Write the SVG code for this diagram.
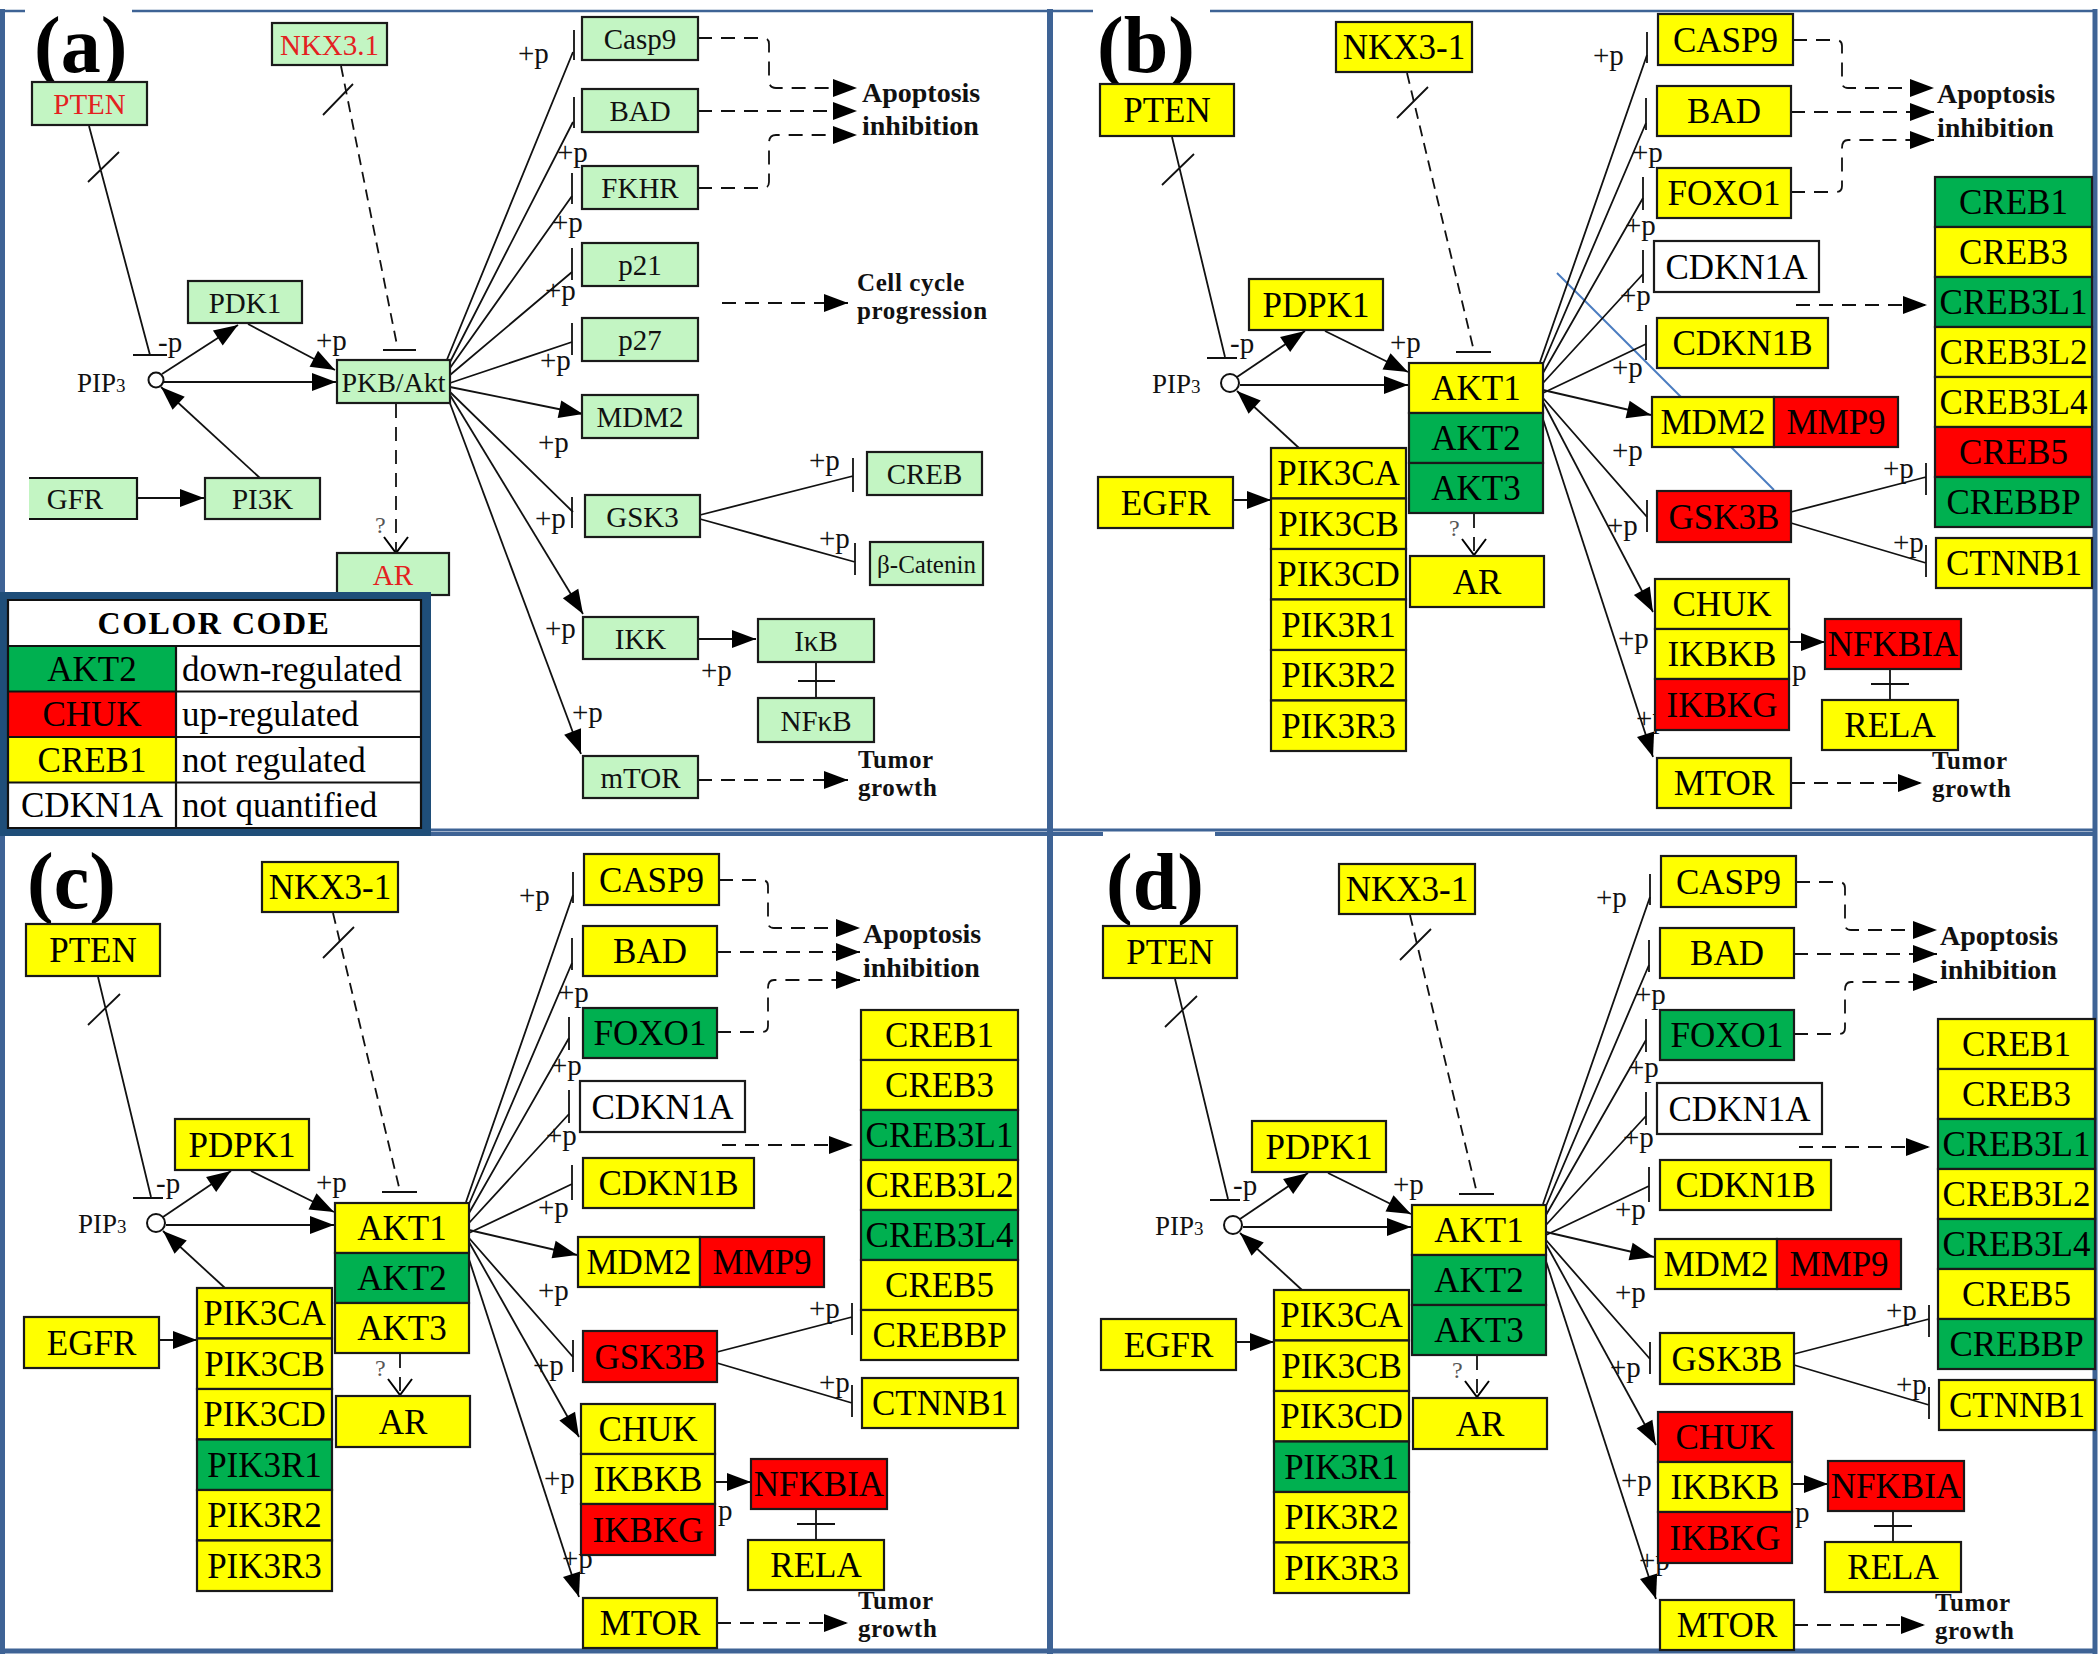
<svg xmlns="http://www.w3.org/2000/svg" width="2100" height="1654" viewBox="0 0 2100 1654">
<defs>
<style>
.fr{fill:none;stroke:#3e6395}
.bx{stroke:#1a1a1a;stroke-width:2.2}
.ga{fill:#c3f5c3}
.Y{fill:#ffff00}.G{fill:#00b050}.R{fill:#ff0000}.W{fill:#ffffff}
.ta{font-family:"Liberation Serif",serif;font-size:29px;text-anchor:middle;fill:#111}
.rd{fill:#e3211f}
.tn{font-family:"Liberation Serif",serif;font-size:35px;text-anchor:middle;fill:#000}
.pl{font-family:"Liberation Serif",serif;font-size:29px;fill:#111}
.ol{font-family:"Liberation Serif",serif;font-size:28px;font-weight:bold;fill:#111}
.o2{font-family:"Liberation Serif",serif;font-size:25px;font-weight:bold;letter-spacing:0.6px;fill:#111}
.ln{fill:none;stroke:#111;stroke-width:1.8}
.ds{stroke-dasharray:14 9}
.dn{stroke-dasharray:11 7}
.pn{font-family:"Liberation Serif",serif;font-size:80px;font-weight:bold;fill:#000}
.lg{font-family:"Liberation Serif",serif;font-size:35px;fill:#000}
.q{font-family:"Liberation Serif",serif;font-size:24px;fill:#555}
.pip{font-family:"Liberation Serif",serif;font-size:27px;fill:#111}
</style>
<marker id="ah" markerUnits="userSpaceOnUse" markerWidth="24" markerHeight="18" refX="24" refY="9" orient="auto" overflow="visible"><path d="M0,0 L24,9 L0,18 z" fill="#000"/></marker>
<marker id="oa" markerUnits="userSpaceOnUse" markerWidth="18" markerHeight="26" refX="16" refY="12" orient="auto" overflow="visible"><path d="M0,0 L16,12 L0,24" fill="none" stroke="#000" stroke-width="2"/></marker>
</defs>
<rect width="2100" height="1654" fill="#fff"/>

<!-- frames -->
<g id="frames">
<path class="fr" stroke-width="2.5" d="M0,11 H25 M132,11 H1047 M1053,11 H1093 M1210,11 H2097"/>
<path class="fr" stroke-width="5" d="M2.5,9 V1654 M2095,9 V1654 M0,1651 H2097"/>
<path class="fr" stroke-width="6" d="M1050,9 V1654"/>
<path class="fr" stroke-width="3" d="M0,830 H2097"/>
<path class="fr" stroke-width="4" d="M0,834 H22 M125,834 H1103 M1215,834 H2097"/>
</g>

<!-- panel labels -->
<text class="pn" x="34" y="72">(a)</text>
<text class="pn" x="1097" y="72">(b)</text>
<text class="pn" x="27" y="908">(c)</text>
<text class="pn" x="1106" y="909">(d)</text>

<!-- ================= PANEL A ================= -->
<g id="panel-a">
<g id="a-connectors">
<path class="ln" d="M89,126 L150,355 M133,355 H167 M88,182 L119,152"/>
<path class="ln dn" d="M341,66 L397,345"/>
<path class="ln" d="M383,350 H416 M323,115 L353,84"/>
<path class="ln" marker-end="url(#ah)" d="M162,374 L238,325"/>
<path class="ln" marker-end="url(#ah)" d="M248,324 L335,370"/>
<path class="ln" marker-end="url(#ah)" d="M164,382 L336,382"/>
<path class="ln" marker-end="url(#ah)" d="M261,479 L161,387"/>
<path class="ln" marker-end="url(#ah)" d="M137,498 L204,498"/>
<path class="ln ds" marker-end="url(#oa)" d="M396,404 V553"/>
<path class="ln" d="M446,362 L573,52 M449,364 L573,122 M450,368 L572,196 M450,375 L572,272 M450,383 L572,342 M450,392 L573,512"/>
<path class="ln" d="M574,30 V60 M574,97 V128 M572,173 V204 M572,248 V280 M572,323 V355 M572,497 V528"/>
<path class="ln" marker-end="url(#ah)" d="M450,387 L583,414"/>
<path class="ln" marker-end="url(#ah)" d="M450,395 L583,614"/>
<path class="ln" marker-end="url(#ah)" d="M448,398 L581,754"/>
<path class="ln ds" marker-end="url(#ah)" d="M698,38 H763 Q769,38 769,44 V80 Q769,88 776,88 H857"/>
<path class="ln ds" marker-end="url(#ah)" d="M698,111 H857"/>
<path class="ln ds" marker-end="url(#ah)" d="M698,188 H763 Q769,188 769,182 V143 Q769,135 776,135 H857"/>
<path class="ln ds" marker-end="url(#ah)" d="M722,303 H848"/>
<path class="ln ds" marker-end="url(#ah)" d="M698,780 H848"/>
<path class="ln" marker-end="url(#ah)" d="M698,639 H756"/>
<path class="ln" d="M816,662 V698 M798,681 H835"/>
<path class="ln" d="M700,515 L853,476 M853,458 V492 M700,519 L855,562 M855,543 V575"/>
</g>
<g id="a-labels">
<text class="pl" x="158" y="352">-p</text>
<text class="pl" x="316" y="350">+p</text>
<text class="q" x="375" y="533">?</text>
<text class="pl" x="518" y="63">+p</text>
<text class="pl" x="557" y="162">+p</text>
<text class="pl" x="552" y="232">+p</text>
<text class="pl" x="545" y="300">+p</text>
<text class="pl" x="540" y="370">+p</text>
<text class="pl" x="538" y="452">+p</text>
<text class="pl" x="535" y="528">+p</text>
<text class="pl" x="545" y="638">+p</text>
<text class="pl" x="572" y="722">+p</text>
<text class="pl" x="701" y="680">+p</text>
<text class="pl" x="809" y="470">+p</text>
<text class="pl" x="819" y="548">+p</text>
<text class="ol" x="862" y="102">Apoptosis<tspan x="862" dy="33">inhibition</tspan></text>
<text class="o2" x="857" y="291">Cell cycle<tspan x="857" dy="28">progression</tspan></text>
<text class="o2" x="858" y="768">Tumor<tspan x="858" dy="28">growth</tspan></text>
</g>
<g id="a-PIP3"><circle cx="156" cy="380" r="7.5" fill="#fff" stroke="#111" stroke-width="2"/><text class="pip" x="77" y="392">PIP<tspan font-size="19">3</tspan></text></g>
<g id="a-PTEN"><rect class="bx ga" x="32" y="82" width="115" height="43"/><text class="ta rd" x="89.5" y="114">PTEN</text></g>
<g id="a-NKX3.1"><rect class="bx ga" x="272" y="23" width="115" height="42"/><text class="ta rd" x="329.5" y="55">NKX3.1</text></g>
<g id="a-PDK1"><rect class="bx ga" x="188" y="281" width="114" height="42"/><text class="ta" x="245" y="313">PDK1</text></g>
<g id="a-PKBAkt"><rect class="bx ga" x="337" y="360" width="113" height="43"/><text class="ta" x="393.5" y="392" style="font-size:28px">PKB/Akt</text></g>
<g id="a-GFR"><rect class="ga" x="29" y="478" width="108" height="41"/><path class="ln" style="stroke-width:2.2" d="M29,478 H137 V519 H29"/><text class="ta" x="75" y="509">GFR</text></g>
<g id="a-PI3K"><rect class="bx ga" x="205" y="478" width="115" height="41"/><text class="ta" x="262.5" y="509">PI3K</text></g>
<g id="a-AR"><rect class="bx ga" x="337" y="553" width="112" height="42"/><text class="ta rd" x="393" y="585">AR</text></g>
<g id="a-Casp9"><rect class="bx ga" x="582" y="17" width="116" height="43"/><text class="ta" x="640" y="49">Casp9</text></g>
<g id="a-BAD"><rect class="bx ga" x="582" y="89" width="116" height="43"/><text class="ta" x="640" y="121">BAD</text></g>
<g id="a-FKHR"><rect class="bx ga" x="582" y="166" width="116" height="43"/><text class="ta" x="640" y="198">FKHR</text></g>
<g id="a-p21"><rect class="bx ga" x="582" y="243" width="116" height="43"/><text class="ta" x="640" y="275">p21</text></g>
<g id="a-p27"><rect class="bx ga" x="582" y="318" width="116" height="43"/><text class="ta" x="640" y="350">p27</text></g>
<g id="a-MDM2"><rect class="bx ga" x="582" y="395" width="116" height="43"/><text class="ta" x="640" y="427">MDM2</text></g>
<g id="a-GSK3"><rect class="bx ga" x="585" y="495" width="115" height="42"/><text class="ta" x="642.5" y="527">GSK3</text></g>
<g id="a-IKK"><rect class="bx ga" x="583" y="617" width="115" height="42"/><text class="ta" x="640.5" y="649">IKK</text></g>
<g id="a-mTOR"><rect class="bx ga" x="583" y="756" width="115" height="42"/><text class="ta" x="640.5" y="788">mTOR</text></g>
<g id="a-CREB"><rect class="bx ga" x="867" y="452" width="115" height="43"/><text class="ta" x="924.5" y="484">CREB</text></g>
<g id="a-bCatenin"><rect class="bx ga" x="870" y="542" width="113" height="43"/><text class="ta" x="926.5" y="573" style="font-size:25px">β-Catenin</text></g>
<g id="a-IkB"><rect class="bx ga" x="758" y="619" width="116" height="43"/><text class="ta" x="816" y="651">IκB</text></g>
<g id="a-NFkB"><rect class="bx ga" x="758" y="698" width="116" height="44"/><text class="ta" x="816" y="731">NFκB</text></g>

<g id="legend">
<rect x="0" y="592" width="431" height="244" fill="#1f4e79"/>
<rect x="8" y="600" width="413" height="228" fill="#fff"/>
<rect x="8" y="646" width="168" height="45.5" class="G"/>
<rect x="8" y="691.5" width="168" height="45.5" class="R"/>
<rect x="8" y="737" width="168" height="45.5" class="Y"/>
<path d="M8,600 H421 V828 H8 Z M8,646 H421 M8,691.5 H421 M8,737 H421 M8,782.5 H421 M176,646 V828" fill="none" stroke="#111" stroke-width="2.2"/>
<text x="214" y="634" text-anchor="middle" style="font-family:'Liberation Serif',serif;font-size:32px;font-weight:bold;letter-spacing:1.5px">COLOR CODE</text>
<text class="lg" x="92" y="681" text-anchor="middle">AKT2</text>
<text class="lg" x="92" y="726" text-anchor="middle">CHUK</text>
<text class="lg" x="92" y="772" text-anchor="middle">CREB1</text>
<text class="lg" x="92" y="817" text-anchor="middle">CDKN1A</text>
<text class="lg" x="182" y="681">down-regulated</text>
<text class="lg" x="182" y="726">up-regulated</text>
<text class="lg" x="182" y="772">not regulated</text>
<text class="lg" x="182" y="817">not quantified</text>
</g>
</g>

<!-- ================= PANEL B ================= -->
<g id="panel-b" transform="translate(1050,0)">
<g id="b-connectors">
<path class="ln" d="M507,273 L724,490" style="stroke:#4a7cc0;stroke-width:2"/>
<path class="ln" d="M122,137 L175,357 M157,358 H187 M112,185 L144,154"/>
<path class="ln dn" d="M357,73 L423,347"/>
<path class="ln" d="M406,352 H441 M347,118 L378,87"/>
<path class="ln" marker-end="url(#ah)" d="M187,377 L255,331"/>
<path class="ln" marker-end="url(#ah)" d="M275,331 L358,372"/>
<path class="ln" marker-end="url(#ah)" d="M190,385 L358,385"/>
<path class="ln" marker-end="url(#ah)" d="M249,448 L187,391"/>
<path class="ln" marker-end="url(#ah)" d="M183,500 L221,500"/>
<path class="ln ds" marker-end="url(#oa)" d="M424,514 V555"/>
<path class="ln" d="M490,362 L597,55 M493,364 L596,123 M493,373 L593,198 M493,383 L593,274 M493,393 L596,344 M493,398 L597,517"/>
<path class="ln" d="M597,32 V63 M596,98 V130 M593,177 V210 M593,250 V283 M596,325 V360 M597,500 V532"/>
<path class="ln" marker-end="url(#ah)" d="M493,390 L601,415"/>
<path class="ln" marker-end="url(#ah)" d="M493,402 L603,612"/>
<path class="ln" marker-end="url(#ah)" d="M490,410 L603,757"/>
<path class="ln ds" marker-end="url(#ah)" d="M743,40 H786 Q792,40 792,46 V82 Q792,88 798,88 H884"/>
<path class="ln ds" marker-end="url(#ah)" d="M741,112 H884"/>
<path class="ln ds" marker-end="url(#ah)" d="M741,192 H786 Q792,192 792,186 V148 Q792,140 798,140 H884"/>
<path class="ln ds" marker-end="url(#ah)" d="M746,305 H877"/>
<path class="ln" d="M741,512 L876,477 M876,463 V495 M741,523 L876,563 M876,545 V577"/>
<path class="ln" marker-end="url(#ah)" d="M739,642 H775"/>
<path class="ln" d="M840,669 V700 M821,684 H859"/>
<path class="ln ds" marker-end="url(#ah)" d="M741,783 H872"/>
</g>
<g id="b-labels">
<text class="pl" x="180" y="353">-p</text>
<text class="pl" x="340" y="352">+p</text>
<text class="q" x="399" y="536">?</text>
<text class="pl" x="543" y="65">+p</text>
<text class="pl" x="582" y="162">+p</text>
<text class="pl" x="575" y="235">+p</text>
<text class="pl" x="570" y="305">+p</text>
<text class="pl" x="562" y="377">+p</text>
<text class="pl" x="562" y="460">+p</text>
<text class="pl" x="557" y="535">+p</text>
<text class="pl" x="568" y="648">+p</text>
<text class="pl" x="586" y="728">+p</text>
<text class="pl" x="833" y="478">+p</text>
<text class="pl" x="843" y="552">+p</text>
<text class="pl" x="742" y="680">p</text>
<text class="ol" x="887" y="103">Apoptosis<tspan x="887" dy="34">inhibition</tspan></text>
<text class="o2" x="882" y="769">Tumor<tspan x="882" dy="28">growth</tspan></text>
</g>
<g id="b-PIP3"><circle cx="180" cy="383" r="9" fill="#fff" stroke="#111" stroke-width="2"/><text class="pip" x="102" y="393">PIP<tspan font-size="19">3</tspan></text></g>
<g id="b-PTEN"><rect class="bx Y" x="50" y="84" width="134" height="52"/><text class="tn" x="117" y="122">PTEN</text></g>
<g id="b-NKX3-1"><rect class="bx Y" x="286" y="22" width="136" height="50"/><text class="tn" x="354" y="59">NKX3-1</text></g>
<g id="b-PDPK1"><rect class="bx Y" x="199" y="279" width="134" height="51"/><text class="tn" x="266" y="317">PDPK1</text></g>
<g id="b-AKT1"><rect class="bx Y" x="359" y="363" width="134" height="50"/><text class="tn" x="426" y="400">AKT1</text></g>
<g id="b-AKT2"><rect class="bx G" x="359" y="413" width="134" height="50"/><text class="tn" x="426" y="450">AKT2</text></g>
<g id="b-AKT3"><rect class="bx G" x="359" y="463" width="134" height="50"/><text class="tn" x="426" y="500">AKT3</text></g>
<g id="b-AR"><rect class="bx Y" x="360" y="556" width="134" height="51"/><text class="tn" x="427" y="594">AR</text></g>
<g id="b-EGFR"><rect class="bx Y" x="48" y="477" width="135" height="51"/><text class="tn" x="115.5" y="515">EGFR</text></g>
<g id="b-PIK3CA"><rect class="bx Y" x="221" y="448" width="135" height="50.5"/><text class="tn" x="288.5" y="485">PIK3CA</text></g>
<g id="b-PIK3CB"><rect class="bx Y" x="221" y="498.5" width="135" height="50.5"/><text class="tn" x="288.5" y="535.5">PIK3CB</text></g>
<g id="b-PIK3CD"><rect class="bx Y" x="221" y="549" width="135" height="50.5"/><text class="tn" x="288.5" y="586">PIK3CD</text></g>
<g id="b-PIK3R1"><rect class="bx Y" x="221" y="599.5" width="135" height="50.5"/><text class="tn" x="288.5" y="636.5">PIK3R1</text></g>
<g id="b-PIK3R2"><rect class="bx Y" x="221" y="650" width="135" height="50.5"/><text class="tn" x="288.5" y="687">PIK3R2</text></g>
<g id="b-PIK3R3"><rect class="bx Y" x="221" y="700.5" width="135" height="50.5"/><text class="tn" x="288.5" y="737.5">PIK3R3</text></g>
<g id="b-CASP9"><rect class="bx Y" x="608" y="14" width="135" height="51"/><text class="tn" x="675.5" y="52">CASP9</text></g>
<g id="b-BAD"><rect class="bx Y" x="607" y="86" width="134" height="50"/><text class="tn" x="674" y="123">BAD</text></g>
<g id="b-FOXO1"><rect class="bx Y" x="607" y="168" width="134" height="50"/><text class="tn" x="674" y="205">FOXO1</text></g>
<g id="b-CDKN1A"><rect class="bx W" x="604" y="241" width="165" height="51"/><text class="tn" x="686.5" y="279">CDKN1A</text></g>
<g id="b-CDKN1B"><rect class="bx Y" x="607" y="318" width="171" height="50"/><text class="tn" x="692.5" y="355">CDKN1B</text></g>
<g id="b-MDM2"><rect class="bx Y" x="602" y="397" width="122" height="50"/><text class="tn" x="663" y="434">MDM2</text></g>
<g id="b-MMP9"><rect class="bx R" x="724" y="397" width="124" height="50"/><text class="tn" x="786" y="434">MMP9</text></g>
<g id="b-GSK3B"><rect class="bx R" x="607" y="491" width="134" height="51"/><text class="tn" x="674" y="529">GSK3B</text></g>
<g id="b-CHUK"><rect class="bx Y" x="605" y="579" width="134" height="50"/><text class="tn" x="672" y="616">CHUK</text></g>
<g id="b-IKBKB"><rect class="bx Y" x="605" y="629" width="134" height="50"/><text class="tn" x="672" y="666">IKBKB</text></g>
<g id="b-IKBKG"><rect class="bx R" x="605" y="679" width="134" height="51"/><text class="tn" x="672" y="717">IKBKG</text></g>
<g id="b-NFKBIA"><rect class="bx R" x="775" y="619" width="136" height="50"/><text class="tn" x="843" y="656">NFKBIA</text></g>
<g id="b-RELA"><rect class="bx Y" x="772" y="700" width="136" height="50"/><text class="tn" x="840" y="737">RELA</text></g>
<g id="b-MTOR"><rect class="bx Y" x="607" y="758" width="134" height="50"/><text class="tn" x="674" y="795">MTOR</text></g>
<g id="b-CREB1"><rect class="bx G" x="885" y="177" width="157" height="50"/><text class="tn" x="963.5" y="214">CREB1</text></g>
<g id="b-CREB3"><rect class="bx Y" x="885" y="227" width="157" height="50"/><text class="tn" x="963.5" y="264">CREB3</text></g>
<g id="b-CREB3L1"><rect class="bx G" x="885" y="277" width="157" height="50"/><text class="tn" x="963.5" y="314">CREB3L1</text></g>
<g id="b-CREB3L2"><rect class="bx Y" x="885" y="327" width="157" height="50"/><text class="tn" x="963.5" y="364">CREB3L2</text></g>
<g id="b-CREB3L4"><rect class="bx Y" x="885" y="377" width="157" height="50"/><text class="tn" x="963.5" y="414">CREB3L4</text></g>
<g id="b-CREB5"><rect class="bx R" x="885" y="427" width="157" height="50"/><text class="tn" x="963.5" y="464">CREB5</text></g>
<g id="b-CREBBP"><rect class="bx G" x="885" y="477" width="157" height="50"/><text class="tn" x="963.5" y="514">CREBBP</text></g>
<g id="b-CTNNB1"><rect class="bx Y" x="886" y="538" width="156" height="50"/><text class="tn" x="964" y="575">CTNNB1</text></g>
</g>

<!-- ================= PANEL C ================= -->
<g id="panel-c" transform="translate(-24,840)">
<g id="c-connectors">
<path class="ln" d="M122,137 L175,357 M157,358 H187 M112,185 L144,154"/>
<path class="ln dn" d="M357,73 L423,347"/>
<path class="ln" d="M406,352 H441 M347,118 L378,87"/>
<path class="ln" marker-end="url(#ah)" d="M187,377 L255,331"/>
<path class="ln" marker-end="url(#ah)" d="M275,331 L358,372"/>
<path class="ln" marker-end="url(#ah)" d="M190,385 L358,385"/>
<path class="ln" marker-end="url(#ah)" d="M249,448 L187,391"/>
<path class="ln" marker-end="url(#ah)" d="M183,500 L221,500"/>
<path class="ln ds" marker-end="url(#oa)" d="M424,514 V555"/>
<path class="ln" d="M490,362 L597,55 M493,364 L596,123 M493,373 L593,198 M493,383 L593,274 M493,393 L596,344 M493,398 L597,517"/>
<path class="ln" d="M597,32 V63 M596,98 V130 M593,177 V210 M593,250 V283 M596,325 V360 M597,500 V532"/>
<path class="ln" marker-end="url(#ah)" d="M493,390 L601,415"/>
<path class="ln" marker-end="url(#ah)" d="M493,402 L603,597"/>
<path class="ln" marker-end="url(#ah)" d="M490,410 L603,757"/>
<path class="ln ds" marker-end="url(#ah)" d="M743,40 H786 Q792,40 792,46 V82 Q792,88 798,88 H884"/>
<path class="ln ds" marker-end="url(#ah)" d="M741,112 H884"/>
<path class="ln ds" marker-end="url(#ah)" d="M741,192 H786 Q792,192 792,186 V148 Q792,140 798,140 H884"/>
<path class="ln ds" marker-end="url(#ah)" d="M746,305 H877"/>
<path class="ln" d="M741,512 L876,477 M876,463 V495 M741,523 L876,563 M876,545 V577"/>
<path class="ln" marker-end="url(#ah)" d="M739,642 H775"/>
<path class="ln" d="M840,669 V700 M821,684 H859"/>
<path class="ln ds" marker-end="url(#ah)" d="M741,783 H872"/>
</g>
<g id="c-labels">
<text class="pl" x="180" y="353">-p</text>
<text class="pl" x="340" y="352">+p</text>
<text class="q" x="399" y="536">?</text>
<text class="pl" x="543" y="65">+p</text>
<text class="pl" x="582" y="162">+p</text>
<text class="pl" x="575" y="235">+p</text>
<text class="pl" x="570" y="305">+p</text>
<text class="pl" x="562" y="377">+p</text>
<text class="pl" x="562" y="460">+p</text>
<text class="pl" x="557" y="535">+p</text>
<text class="pl" x="568" y="648">+p</text>
<text class="pl" x="586" y="728">+p</text>
<text class="pl" x="833" y="478">+p</text>
<text class="pl" x="843" y="552">+p</text>
<text class="pl" x="742" y="680">p</text>
<text class="ol" x="887" y="103">Apoptosis<tspan x="887" dy="34">inhibition</tspan></text>
<text class="o2" x="882" y="769">Tumor<tspan x="882" dy="28">growth</tspan></text>
</g>
<g id="c-PIP3"><circle cx="180" cy="383" r="9" fill="#fff" stroke="#111" stroke-width="2"/><text class="pip" x="102" y="393">PIP<tspan font-size="19">3</tspan></text></g>
<g id="c-PTEN"><rect class="bx Y" x="50" y="84" width="134" height="52"/><text class="tn" x="117" y="122">PTEN</text></g>
<g id="c-NKX3-1"><rect class="bx Y" x="286" y="22" width="136" height="50"/><text class="tn" x="354" y="59">NKX3-1</text></g>
<g id="c-PDPK1"><rect class="bx Y" x="199" y="279" width="134" height="51"/><text class="tn" x="266" y="317">PDPK1</text></g>
<g id="c-AKT1"><rect class="bx Y" x="359" y="363" width="134" height="50"/><text class="tn" x="426" y="400">AKT1</text></g>
<g id="c-AKT2"><rect class="bx G" x="359" y="413" width="134" height="50"/><text class="tn" x="426" y="450">AKT2</text></g>
<g id="c-AKT3"><rect class="bx Y" x="359" y="463" width="134" height="50"/><text class="tn" x="426" y="500">AKT3</text></g>
<g id="c-AR"><rect class="bx Y" x="360" y="556" width="134" height="51"/><text class="tn" x="427" y="594">AR</text></g>
<g id="c-EGFR"><rect class="bx Y" x="48" y="477" width="135" height="51"/><text class="tn" x="115.5" y="515">EGFR</text></g>
<g id="c-PIK3CA"><rect class="bx Y" x="221" y="448" width="135" height="50.5"/><text class="tn" x="288.5" y="485">PIK3CA</text></g>
<g id="c-PIK3CB"><rect class="bx Y" x="221" y="498.5" width="135" height="50.5"/><text class="tn" x="288.5" y="535.5">PIK3CB</text></g>
<g id="c-PIK3CD"><rect class="bx Y" x="221" y="549" width="135" height="50.5"/><text class="tn" x="288.5" y="586">PIK3CD</text></g>
<g id="c-PIK3R1"><rect class="bx G" x="221" y="599.5" width="135" height="50.5"/><text class="tn" x="288.5" y="636.5">PIK3R1</text></g>
<g id="c-PIK3R2"><rect class="bx Y" x="221" y="650" width="135" height="50.5"/><text class="tn" x="288.5" y="687">PIK3R2</text></g>
<g id="c-PIK3R3"><rect class="bx Y" x="221" y="700.5" width="135" height="50.5"/><text class="tn" x="288.5" y="737.5">PIK3R3</text></g>
<g id="c-CASP9"><rect class="bx Y" x="608" y="14" width="135" height="51"/><text class="tn" x="675.5" y="52">CASP9</text></g>
<g id="c-BAD"><rect class="bx Y" x="607" y="86" width="134" height="50"/><text class="tn" x="674" y="123">BAD</text></g>
<g id="c-FOXO1"><rect class="bx G" x="607" y="168" width="134" height="50"/><text class="tn" x="674" y="205">FOXO1</text></g>
<g id="c-CDKN1A"><rect class="bx W" x="604" y="241" width="165" height="51"/><text class="tn" x="686.5" y="279">CDKN1A</text></g>
<g id="c-CDKN1B"><rect class="bx Y" x="607" y="318" width="171" height="50"/><text class="tn" x="692.5" y="355">CDKN1B</text></g>
<g id="c-MDM2"><rect class="bx Y" x="602" y="397" width="122" height="50"/><text class="tn" x="663" y="434">MDM2</text></g>
<g id="c-MMP9"><rect class="bx R" x="724" y="397" width="124" height="50"/><text class="tn" x="786" y="434">MMP9</text></g>
<g id="c-GSK3B"><rect class="bx R" x="607" y="491" width="134" height="51"/><text class="tn" x="674" y="529">GSK3B</text></g>
<g id="c-CHUK"><rect class="bx Y" x="605" y="564" width="134" height="50"/><text class="tn" x="672" y="601">CHUK</text></g>
<g id="c-IKBKB"><rect class="bx Y" x="605" y="614" width="134" height="50"/><text class="tn" x="672" y="651">IKBKB</text></g>
<g id="c-IKBKG"><rect class="bx R" x="605" y="664" width="134" height="51"/><text class="tn" x="672" y="702">IKBKG</text></g>
<g id="c-NFKBIA"><rect class="bx R" x="775" y="619" width="136" height="50"/><text class="tn" x="843" y="656">NFKBIA</text></g>
<g id="c-RELA"><rect class="bx Y" x="772" y="700" width="136" height="50"/><text class="tn" x="840" y="737">RELA</text></g>
<g id="c-MTOR"><rect class="bx Y" x="607" y="758" width="134" height="50"/><text class="tn" x="674" y="795">MTOR</text></g>
<g id="c-CREB1"><rect class="bx Y" x="885" y="170" width="157" height="50"/><text class="tn" x="963.5" y="207">CREB1</text></g>
<g id="c-CREB3"><rect class="bx Y" x="885" y="220" width="157" height="50"/><text class="tn" x="963.5" y="257">CREB3</text></g>
<g id="c-CREB3L1"><rect class="bx G" x="885" y="270" width="157" height="50"/><text class="tn" x="963.5" y="307">CREB3L1</text></g>
<g id="c-CREB3L2"><rect class="bx Y" x="885" y="320" width="157" height="50"/><text class="tn" x="963.5" y="357">CREB3L2</text></g>
<g id="c-CREB3L4"><rect class="bx G" x="885" y="370" width="157" height="50"/><text class="tn" x="963.5" y="407">CREB3L4</text></g>
<g id="c-CREB5"><rect class="bx Y" x="885" y="420" width="157" height="50"/><text class="tn" x="963.5" y="457">CREB5</text></g>
<g id="c-CREBBP"><rect class="bx Y" x="885" y="470" width="157" height="50"/><text class="tn" x="963.5" y="507">CREBBP</text></g>
<g id="c-CTNNB1"><rect class="bx Y" x="886" y="538" width="156" height="50"/><text class="tn" x="964" y="575">CTNNB1</text></g>
</g>

<!-- ================= PANEL D ================= -->
<g id="panel-d" transform="translate(1053,842)">
<g id="d-connectors">
<path class="ln" d="M122,137 L175,357 M157,358 H187 M112,185 L144,154"/>
<path class="ln dn" d="M357,73 L423,347"/>
<path class="ln" d="M406,352 H441 M347,118 L378,87"/>
<path class="ln" marker-end="url(#ah)" d="M187,377 L255,331"/>
<path class="ln" marker-end="url(#ah)" d="M275,331 L358,372"/>
<path class="ln" marker-end="url(#ah)" d="M190,385 L358,385"/>
<path class="ln" marker-end="url(#ah)" d="M249,448 L187,391"/>
<path class="ln" marker-end="url(#ah)" d="M183,500 L221,500"/>
<path class="ln ds" marker-end="url(#oa)" d="M424,514 V555"/>
<path class="ln" d="M490,362 L597,55 M493,364 L596,123 M493,373 L593,198 M493,383 L593,274 M493,393 L596,344 M493,398 L597,517"/>
<path class="ln" d="M597,32 V63 M596,98 V130 M593,177 V210 M593,250 V283 M596,325 V360 M597,500 V532"/>
<path class="ln" marker-end="url(#ah)" d="M493,390 L601,415"/>
<path class="ln" marker-end="url(#ah)" d="M493,402 L603,603"/>
<path class="ln" marker-end="url(#ah)" d="M490,410 L603,757"/>
<path class="ln ds" marker-end="url(#ah)" d="M743,40 H786 Q792,40 792,46 V82 Q792,88 798,88 H884"/>
<path class="ln ds" marker-end="url(#ah)" d="M741,112 H884"/>
<path class="ln ds" marker-end="url(#ah)" d="M741,192 H786 Q792,192 792,186 V148 Q792,140 798,140 H884"/>
<path class="ln ds" marker-end="url(#ah)" d="M746,305 H877"/>
<path class="ln" d="M741,512 L876,477 M876,463 V495 M741,523 L876,563 M876,545 V577"/>
<path class="ln" marker-end="url(#ah)" d="M739,642 H775"/>
<path class="ln" d="M840,669 V700 M821,684 H859"/>
<path class="ln ds" marker-end="url(#ah)" d="M741,783 H872"/>
</g>
<g id="d-labels">
<text class="pl" x="180" y="353">-p</text>
<text class="pl" x="340" y="352">+p</text>
<text class="q" x="399" y="536">?</text>
<text class="pl" x="543" y="65">+p</text>
<text class="pl" x="582" y="162">+p</text>
<text class="pl" x="575" y="235">+p</text>
<text class="pl" x="570" y="305">+p</text>
<text class="pl" x="562" y="377">+p</text>
<text class="pl" x="562" y="460">+p</text>
<text class="pl" x="557" y="535">+p</text>
<text class="pl" x="568" y="648">+p</text>
<text class="pl" x="586" y="728">+p</text>
<text class="pl" x="833" y="478">+p</text>
<text class="pl" x="843" y="552">+p</text>
<text class="pl" x="742" y="680">p</text>
<text class="ol" x="887" y="103">Apoptosis<tspan x="887" dy="34">inhibition</tspan></text>
<text class="o2" x="882" y="769">Tumor<tspan x="882" dy="28">growth</tspan></text>
</g>
<g id="d-PIP3"><circle cx="180" cy="383" r="9" fill="#fff" stroke="#111" stroke-width="2"/><text class="pip" x="102" y="393">PIP<tspan font-size="19">3</tspan></text></g>
<g id="d-PTEN"><rect class="bx Y" x="50" y="84" width="134" height="52"/><text class="tn" x="117" y="122">PTEN</text></g>
<g id="d-NKX3-1"><rect class="bx Y" x="286" y="22" width="136" height="50"/><text class="tn" x="354" y="59">NKX3-1</text></g>
<g id="d-PDPK1"><rect class="bx Y" x="199" y="279" width="134" height="51"/><text class="tn" x="266" y="317">PDPK1</text></g>
<g id="d-AKT1"><rect class="bx Y" x="359" y="363" width="134" height="50"/><text class="tn" x="426" y="400">AKT1</text></g>
<g id="d-AKT2"><rect class="bx G" x="359" y="413" width="134" height="50"/><text class="tn" x="426" y="450">AKT2</text></g>
<g id="d-AKT3"><rect class="bx G" x="359" y="463" width="134" height="50"/><text class="tn" x="426" y="500">AKT3</text></g>
<g id="d-AR"><rect class="bx Y" x="360" y="556" width="134" height="51"/><text class="tn" x="427" y="594">AR</text></g>
<g id="d-EGFR"><rect class="bx Y" x="48" y="477" width="135" height="51"/><text class="tn" x="115.5" y="515">EGFR</text></g>
<g id="d-PIK3CA"><rect class="bx Y" x="221" y="448" width="135" height="50.5"/><text class="tn" x="288.5" y="485">PIK3CA</text></g>
<g id="d-PIK3CB"><rect class="bx Y" x="221" y="498.5" width="135" height="50.5"/><text class="tn" x="288.5" y="535.5">PIK3CB</text></g>
<g id="d-PIK3CD"><rect class="bx Y" x="221" y="549" width="135" height="50.5"/><text class="tn" x="288.5" y="586">PIK3CD</text></g>
<g id="d-PIK3R1"><rect class="bx G" x="221" y="599.5" width="135" height="50.5"/><text class="tn" x="288.5" y="636.5">PIK3R1</text></g>
<g id="d-PIK3R2"><rect class="bx Y" x="221" y="650" width="135" height="50.5"/><text class="tn" x="288.5" y="687">PIK3R2</text></g>
<g id="d-PIK3R3"><rect class="bx Y" x="221" y="700.5" width="135" height="50.5"/><text class="tn" x="288.5" y="737.5">PIK3R3</text></g>
<g id="d-CASP9"><rect class="bx Y" x="608" y="14" width="135" height="51"/><text class="tn" x="675.5" y="52">CASP9</text></g>
<g id="d-BAD"><rect class="bx Y" x="607" y="86" width="134" height="50"/><text class="tn" x="674" y="123">BAD</text></g>
<g id="d-FOXO1"><rect class="bx G" x="607" y="168" width="134" height="50"/><text class="tn" x="674" y="205">FOXO1</text></g>
<g id="d-CDKN1A"><rect class="bx W" x="604" y="241" width="165" height="51"/><text class="tn" x="686.5" y="279">CDKN1A</text></g>
<g id="d-CDKN1B"><rect class="bx Y" x="607" y="318" width="171" height="50"/><text class="tn" x="692.5" y="355">CDKN1B</text></g>
<g id="d-MDM2"><rect class="bx Y" x="602" y="397" width="122" height="50"/><text class="tn" x="663" y="434">MDM2</text></g>
<g id="d-MMP9"><rect class="bx R" x="724" y="397" width="124" height="50"/><text class="tn" x="786" y="434">MMP9</text></g>
<g id="d-GSK3B"><rect class="bx Y" x="607" y="491" width="134" height="51"/><text class="tn" x="674" y="529">GSK3B</text></g>
<g id="d-CHUK"><rect class="bx R" x="605" y="570" width="134" height="50"/><text class="tn" x="672" y="607">CHUK</text></g>
<g id="d-IKBKB"><rect class="bx Y" x="605" y="620" width="134" height="50"/><text class="tn" x="672" y="657">IKBKB</text></g>
<g id="d-IKBKG"><rect class="bx R" x="605" y="670" width="134" height="51"/><text class="tn" x="672" y="708">IKBKG</text></g>
<g id="d-NFKBIA"><rect class="bx R" x="775" y="619" width="136" height="50"/><text class="tn" x="843" y="656">NFKBIA</text></g>
<g id="d-RELA"><rect class="bx Y" x="772" y="700" width="136" height="50"/><text class="tn" x="840" y="737">RELA</text></g>
<g id="d-MTOR"><rect class="bx Y" x="607" y="758" width="134" height="50"/><text class="tn" x="674" y="795">MTOR</text></g>
<g id="d-CREB1"><rect class="bx Y" x="885" y="177" width="157" height="50"/><text class="tn" x="963.5" y="214">CREB1</text></g>
<g id="d-CREB3"><rect class="bx Y" x="885" y="227" width="157" height="50"/><text class="tn" x="963.5" y="264">CREB3</text></g>
<g id="d-CREB3L1"><rect class="bx G" x="885" y="277" width="157" height="50"/><text class="tn" x="963.5" y="314">CREB3L1</text></g>
<g id="d-CREB3L2"><rect class="bx Y" x="885" y="327" width="157" height="50"/><text class="tn" x="963.5" y="364">CREB3L2</text></g>
<g id="d-CREB3L4"><rect class="bx G" x="885" y="377" width="157" height="50"/><text class="tn" x="963.5" y="414">CREB3L4</text></g>
<g id="d-CREB5"><rect class="bx Y" x="885" y="427" width="157" height="50"/><text class="tn" x="963.5" y="464">CREB5</text></g>
<g id="d-CREBBP"><rect class="bx G" x="885" y="477" width="157" height="50"/><text class="tn" x="963.5" y="514">CREBBP</text></g>
<g id="d-CTNNB1"><rect class="bx Y" x="886" y="538" width="156" height="50"/><text class="tn" x="964" y="575">CTNNB1</text></g>
</g>
</svg>
